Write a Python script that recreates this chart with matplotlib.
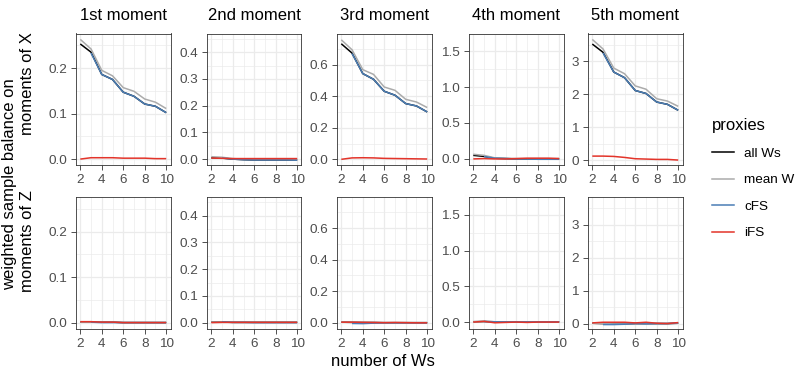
import numpy as np
import matplotlib
matplotlib.use("Agg")
import matplotlib.pyplot as plt
from matplotlib.lines import Line2D

plt.rcParams['font.family'] = ['Liberation Sans', 'DejaVu Sans']

nan = np.nan
n_ws = [2, 3, 4, 5, 6, 7, 8, 9, 10]
moments = ["1st moment", "2nd moment", "3rd moment", "4th moment", "5th moment"]
proxies = ["all Ws", "mean W", "cFS", "iFS"]
colors = ["#000000", "#ABABAB", "#4A7DB5", "#E3342A"]

# balance on moments of X (top row), one list per moment
x_all_ws = [
    [0.253, 0.235, 0.186, 0.175, 0.147, 0.138, 0.121, 0.116, 0.102],
    [0.005, 0.004, 0.000, -0.002, -0.003, -0.003, -0.003, -0.003, -0.003],
    [0.732, 0.673, 0.543, 0.507, 0.431, 0.406, 0.353, 0.338, 0.300],
    [0.045, 0.030, 0.005, 0.000, -0.005, -0.005, -0.005, -0.005, -0.005],
    [3.52, 3.27, 2.67, 2.50, 2.11, 2.02, 1.76, 1.69, 1.51],
]
x_mean_w = [
    [0.263, 0.242, 0.195, 0.183, 0.157, 0.149, 0.132, 0.125, 0.111],
    [0.009, 0.007, 0.002, 0.000, -0.001, -0.001, -0.001, -0.001, -0.001],
    [0.757, 0.694, 0.568, 0.538, 0.458, 0.437, 0.380, 0.363, 0.328],
    [0.060, 0.045, 0.010, 0.005, 0.000, 0.000, 0.000, 0.000, 0.000],
    [3.66, 3.37, 2.79, 2.62, 2.25, 2.15, 1.86, 1.79, 1.63],
]
x_cfs = [
    [nan, 0.233, 0.186, 0.175, 0.147, 0.138, 0.121, 0.116, 0.102],
    [nan, 0.004, 0.000, -0.002, -0.003, -0.003, -0.003, -0.003, -0.004],
    [nan, 0.670, 0.543, 0.507, 0.431, 0.406, 0.353, 0.338, 0.300],
    [nan, 0.028, 0.005, 0.000, -0.005, -0.005, -0.010, -0.010, -0.010],
    [nan, 3.25, 2.67, 2.50, 2.11, 2.02, 1.76, 1.69, 1.51],
]
x_ifs = [
    [0.000, 0.003, 0.003, 0.003, 0.002, 0.002, 0.002, 0.001, 0.001],
    [0.004, 0.003, 0.002, 0.002, 0.002, 0.002, 0.002, 0.002, 0.002],
    [0.000, 0.009, 0.010, 0.009, 0.006, 0.005, 0.004, 0.003, 0.002],
    [-0.005, 0.000, -0.005, -0.005, 0.000, 0.005, 0.005, 0.005, 0.000],
    [0.12, 0.12, 0.11, 0.08, 0.04, 0.03, 0.02, 0.02, 0.00],
]

# balance on moments of Z (bottom row)
z_all_ws = [
    [0.001, 0.001, 0.001, 0.001, 0.000, 0.000, 0.000, 0.000, 0.000],
    [0.002, 0.002, 0.001, 0.001, 0.001, 0.001, 0.001, 0.001, 0.001],
    [0.004, 0.003, 0.002, 0.002, 0.001, 0.001, 0.001, 0.001, 0.001],
    [0.005, 0.008, 0.004, 0.004, 0.003, 0.003, 0.003, 0.003, 0.003],
    [0.01, 0.00, -0.01, -0.01, 0.00, 0.00, 0.00, 0.00, 0.01],
]
z_mean_w = [
    [0.001, 0.001, 0.001, 0.001, 0.000, 0.000, 0.000, 0.000, 0.000],
    [0.002, 0.002, 0.001, 0.001, 0.001, 0.001, 0.001, 0.001, 0.001],
    [0.004, 0.003, 0.002, 0.002, 0.001, 0.001, 0.001, 0.001, 0.001],
    [0.005, 0.008, 0.004, 0.004, 0.003, 0.003, 0.003, 0.003, 0.003],
    [0.01, 0.00, -0.01, -0.01, 0.00, 0.00, 0.00, 0.00, 0.01],
]
z_cfs = [
    [nan, 0.001, 0.000, 0.000, 0.000, 0.000, 0.000, 0.000, 0.000],
    [nan, 0.003, 0.001, 0.001, 0.000, 0.000, 0.000, 0.000, 0.000],
    [nan, -0.004, -0.005, -0.002, 0.000, 0.000, 0.000, 0.000, 0.000],
    [nan, 0.008, 0.004, 0.004, 0.003, 0.003, 0.003, 0.003, 0.003],
    [nan, -0.03, -0.03, -0.02, 0.00, -0.01, 0.00, 0.00, 0.02],
]
z_ifs = [
    [0.002, 0.002, 0.001, 0.001, 0.000, 0.000, 0.000, 0.000, 0.000],
    [0.000, 0.001, 0.001, 0.001, 0.001, 0.001, 0.001, 0.001, 0.001],
    [0.004, 0.004, 0.003, 0.002, 0.001, 0.002, 0.001, 0.000, 0.000],
    [0.000, 0.010, -0.010, -0.005, 0.000, -0.005, 0.000, 0.000, 0.000],
    [0.02, 0.04, 0.04, 0.04, 0.02, 0.04, 0.01, 0.00, 0.03],
]

y_limits = [(-0.013, 0.276), (-0.022, 0.47), (-0.036, 0.797), (-0.09, 1.75), (-0.15, 3.84)]
y_ticks = [[0, 0.1, 0.2], [0, 0.1, 0.2, 0.3, 0.4], [0, 0.2, 0.4, 0.6],
           [0, 0.5, 1.0, 1.5], [0, 1, 2, 3]]
y_ticklabels = [["0.0", "0.1", "0.2"], ["0.0", "0.1", "0.2", "0.3", "0.4"],
                ["0.0", "0.2", "0.4", "0.6"], ["0.0", "0.5", "1.0", "1.5"],
                ["0", "1", "2", "3"]]
x_ticks = [2, 4, 6, 8, 10]

W, H = 797, 368
fig = plt.figure(figsize=(W / 100, H / 100), dpi=100)

col_left = [76, 207, 337, 469, 588]
col_width = 94.5
row_top = [33.5, 197]
row_height = 131.5

rows = [(x_all_ws, x_mean_w, x_cfs, x_ifs), (z_all_ws, z_mean_w, z_cfs, z_ifs)]

for r, series in enumerate(rows):
    for c in range(5):
        ax = fig.add_axes([col_left[c] / W, 1 - (row_top[r] + row_height) / H,
                           col_width / W, row_height / H])
        for vals, col in zip(series, colors):
            ax.plot(n_ws, vals[c], color=col, lw=1.1, solid_capstyle='butt')
        ax.set_xticks(x_ticks)
        ax.set_xticks([3, 5, 7, 9], minor=True)
        yt = y_ticks[c]
        ax.set_yticks(yt)
        ax.set_yticklabels(y_ticklabels[c])
        step = yt[1] - yt[0]
        ax.set_yticks([v + step / 2 for v in yt], minor=True)
        # limits after ticks so the minor ticks do not widen the view
        ax.set_xlim(1.6, 10.4)
        ax.set_ylim(*y_limits[c])
        ax.grid(True, which='major', color='#EBEBEB', lw=0.9)
        ax.grid(True, which='minor', color='#EBEBEB', lw=0.5)
        ax.set_axisbelow(True)
        for sp in ax.spines.values():
            sp.set_color('#333333')
            sp.set_linewidth(0.6)
        ax.tick_params(which='major', length=3.5, width=0.6, color='#333333',
                       labelcolor='#4D4D4D', labelsize=9.7, pad=3)
        ax.tick_params(which='minor', length=0)
        if r == 0:
            ax.set_title(moments[c], fontsize=12, pad=9.5)

fig.text(10 / W, 1 - 184.5 / H, "weighted sample balance on", rotation=90,
         ha='center', va='center', fontsize=12)
fig.text(28 / W, 1 - 83.5 / H, "moments of X", rotation=90,
         ha='center', va='center', fontsize=12)
fig.text(28 / W, 1 - 241.5 / H, "moments of Z", rotation=90,
         ha='center', va='center', fontsize=12)
fig.text(383 / W, 1 - 362 / H, "number of Ws", ha='center', va='center', fontsize=12)

handles = [Line2D([], [], color=col, lw=1.1) for col in colors]
leg = fig.legend(handles, proxies, title="proxies", loc='upper left',
                 bbox_to_anchor=(700 / W, 1 - 106 / H), frameon=False,
                 fontsize=9.7, title_fontsize=12, handlelength=1.6,
                 handletextpad=0.8, labelspacing=1.05, alignment='left')

fig.savefig("out.png", dpi=100)
